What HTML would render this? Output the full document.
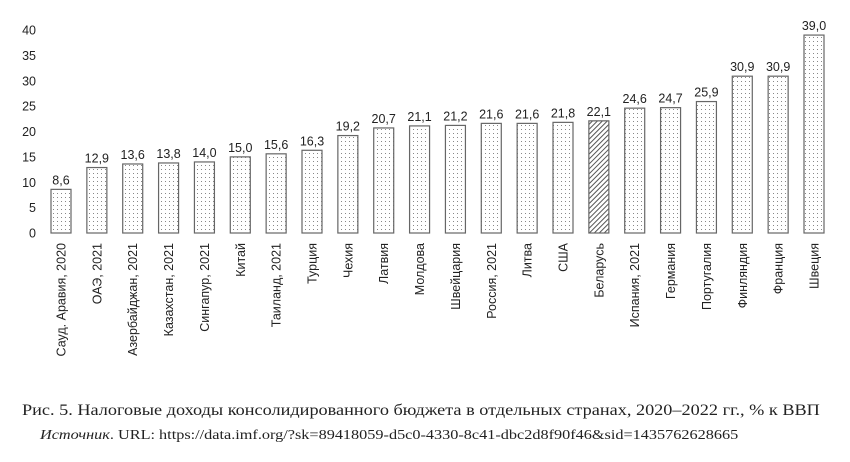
<!DOCTYPE html>
<html><head><meta charset="utf-8">
<style>
body{margin:0;background:#fff;width:850px;height:462px;overflow:hidden;font-family:"Liberation Sans",sans-serif}
svg{position:absolute;left:0;top:0}
.cap{position:absolute;font-family:"Liberation Serif",serif;color:#222;white-space:nowrap;transform-origin:0 0}
</style></head><body>
<svg id="chart" width="850" height="380" xmlns="http://www.w3.org/2000/svg">
<defs>
<pattern id="dots" width="4" height="4" patternUnits="userSpaceOnUse"><rect width="4" height="4" fill="#fff"/><rect x="1" y="1" width="1" height="1" fill="#888"/></pattern>
<pattern id="hatch" width="3.5" height="3.5" patternUnits="userSpaceOnUse" patternTransform="rotate(45)"><rect width="3.5" height="3.5" fill="#fff"/><rect width="1" height="3.5" fill="#555"/></pattern>
</defs>
<g id="yaxis"></g>
<g id="bars"></g>
</svg>
<div class="cap" style="left:22px;top:402px;font-size:16px;transform:scaleX(1.14)">Рис. 5. Налоговые доходы консолидированного бюджета в отдельных странах, 2020–2022 гг., % к ВВП</div>
<div class="cap" style="left:40px;top:428px;font-size:14px;transform:scaleX(1.16)"><i>Источник</i>. URL: https://data.imf.org/?sk=89418059-d5c0-4330-8c41-dbc2d8f90f46&amp;sid=1435762628665</div>
<script>
const categories=["Сауд. Аравия, 2020","ОАЭ, 2021","Азербайджан, 2021","Казахстан, 2021","Сингапур, 2021","Китай","Таиланд, 2021","Турция","Чехия","Латвия","Молдова","Швейцария","Россия, 2021","Литва","США","Беларусь","Испания, 2021","Германия","Португалия","Финляндия","Франция","Швеция"];
const values=[8.6,12.9,13.6,13.8,14.0,15.0,15.6,16.3,19.2,20.7,21.1,21.2,21.6,21.6,21.8,22.1,24.6,24.7,25.9,30.9,30.9,39.0];
const valueLabels=["8,6","12,9","13,6","13,8","14,0","15,0","15,6","16,3","19,2","20,7","21,1","21,2","21,6","21,6","21,8","22,1","24,6","24,7","25,9","30,9","30,9","39,0"];
const yTicks=[0,5,10,15,20,25,30,35,40];
const highlight="Беларусь";
const NS="http://www.w3.org/2000/svg";
const y0=233,yTop=30,yMax=40;
function yScale(v){return y0-(v/yMax)*(y0-yTop);}
const step=(814-61)/(categories.length-1);
function xScale(i){return 61+i*step;}
const bw=20;
const ya=document.getElementById('yaxis');
yTicks.forEach(t=>{
  const tx=document.createElementNS(NS,'text');
  
  
  tx.setAttribute('x',36);tx.setAttribute('y',yScale(t)+4.5);
  tx.setAttribute('text-anchor','end');tx.setAttribute('font-size','12.5');tx.setAttribute('fill','#222');
  tx.textContent=t;ya.appendChild(tx);
});
const g=document.getElementById('bars');
categories.forEach((c,i)=>{
  const cx=xScale(i),yv=yScale(values[i]);
  const r=document.createElementNS(NS,'rect');
  
  
  r.setAttribute('x',cx-bw/2);r.setAttribute('y',yv);
  r.setAttribute('width',bw);r.setAttribute('height',y0-yv);
  r.setAttribute('fill',c===highlight?'url(#hatch)':'url(#dots)');
  r.setAttribute('stroke','#666');r.setAttribute('stroke-width','1.2');
  g.appendChild(r);
  const vl=document.createElementNS(NS,'text');
  
  
  vl.setAttribute('x',cx);vl.setAttribute('y',yv-5);
  vl.setAttribute('text-anchor','middle');vl.setAttribute('font-size','12.5');vl.setAttribute('fill','#222');
  vl.textContent=valueLabels[i];g.appendChild(vl);
  const cl=document.createElementNS(NS,'text');
  
  
  cl.setAttribute('transform','translate('+(cx+4.5)+',243) rotate(-90)');
  cl.setAttribute('text-anchor','end');cl.setAttribute('font-size','12.5');cl.setAttribute('fill','#222');
  cl.textContent=c;g.appendChild(cl);
});
</script>
</body></html>
